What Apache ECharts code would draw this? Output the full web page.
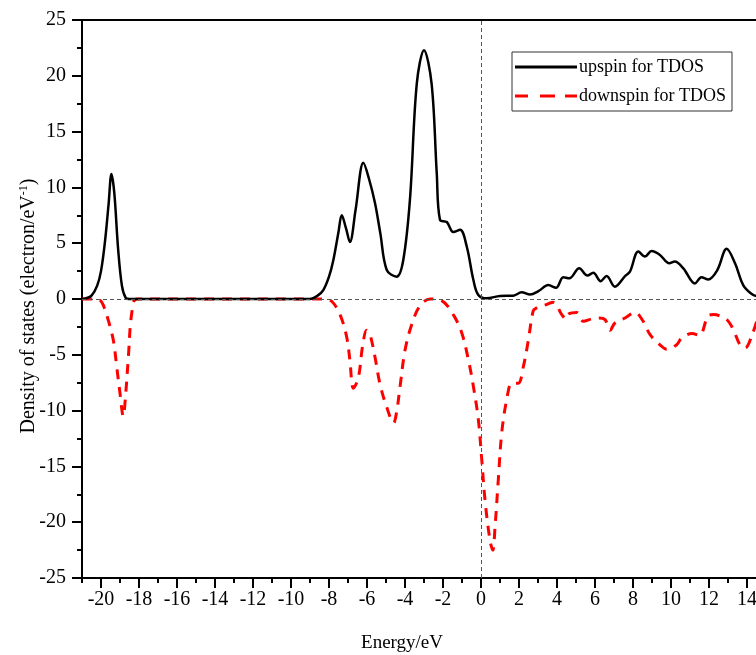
<!DOCTYPE html>
<html lang="en" style="height: 100%">
<head>
  <meta charset="utf-8">
</head>
<body style="height: 100%; margin: 0">
  <div id="container" style="width: 756px; height: 655px"></div>

  <script type="text/javascript" src="https://cdn.jsdelivr.net/npm/echarts@6/dist/echarts.min.js"></script>

  <script type="text/javascript">
    // values (energy in eV, DOS in electron/eV)
    var upEnergy = [-21, -20.8, -20.5, -20.2, -20, -19.8, -19.6, -19.45, -19.3, -19.1, -18.9, -18.7, -18.5,
      -9, -8.6, -8.3, -8, -7.77, -7.5, -7.33, -7.1, -6.9, -6.6, -6.19, -5.9, -5.58, -5.3, -4.96, -4.44, -4.09,
      -3.74, -3.38, -3.0, -2.6, -2.33, -2.16, -1.8, -1.46, -1.1, -0.75, -0.4, -0.14, 0.3, 1.0, 1.7, 2.14, 2.58,
      3.02, 3.54, 3.95, 4.33, 4.65, 5.17, 5.6, 5.91, 6.3, 6.61, 7.05, 7.58, 7.84, 8.28, 8.63, 8.98, 9.42, 9.91,
      10.2, 10.65, 11.26, 11.6, 11.96, 12.44, 12.93, 13.37, 13.8, 14.25, 14.6];
    var upDos = [0, 0.05, 0.3, 1.2, 2.5, 5, 8.5, 11.2, 9.5, 4.5, 1.2, 0.1, 0,
      0, 0.3, 0.8, 2.0, 3.5, 6.0, 7.5, 6.3, 5.1, 8.0, 12.2, 10.8, 8.6, 5.9, 2.6, 2.0, 3.5,
      8.9, 19.3, 22.3, 19.3, 11.3, 7.1, 6.9, 6.0, 6.2, 4.7, 1.7, 0.36, 0.06, 0.27, 0.3, 0.6, 0.4,
      0.7, 1.25, 1.0, 1.95, 1.85, 2.75, 2.1, 2.35, 1.6, 2.05, 1.1, 2.05, 2.45, 4.25, 3.8, 4.3, 3.95, 3.2,
      3.35, 2.75, 1.4, 1.95, 1.75, 2.6, 4.5, 3.2, 1.25, 0.45, 0.2];

    var downEnergy = [-21, -20.3, -20.05, -19.88, -19.6, -19.35, -19.17, -19.0, -18.83, -18.7, -18.56, -18.38, -18.1,
      -9, -8.3, -7.86, -7.42, -7.07, -6.9, -6.72, -6.46, -6.23, -6.02, -5.84, -5.58, -5.32, -4.96, -4.6, -4.44,
      -4.26, -4.0, -3.65, -3.21, -2.68, -2.07, -1.46, -1.02, -0.67, -0.4, -0.14, 0.04, 0.21, 0.47, 0.62, 0.74,
      0.91, 1.09, 1.35, 1.62, 1.96, 2.23, 2.49, 2.75, 2.93, 3.28, 3.8, 4.25, 4.47, 4.6, 5.04, 5.39, 5.8, 6.18,
      6.53, 6.79, 7.05, 7.58, 8.1, 8.54, 8.9, 9.42, 9.77, 10.3, 10.56, 11.1, 11.5, 11.96, 12.23, 12.93, 13.28,
      13.63, 13.9, 14.25, 14.6];
    var downDos = [0, 0, -0.1, -0.55, -2.0, -3.7, -6.1, -8.45, -10.5, -8.5, -5.2, -1.25, 0,
      0, 0, -0.2, -1.4, -3.4, -5.5, -8.0, -7.1, -4.2, -2.8, -3.2, -5.2, -7.6, -9.7, -11.1, -10.1,
      -7.85, -4.6, -2.3, -0.6, 0, -0.15, -1.4, -3.0, -5.4, -7.85, -10.8, -14.4, -18.0, -21.6, -22.5, -20.4,
      -16.2, -12.0, -9.05, -7.55, -7.55, -6.05, -3.7, -1.05, -0.8, -0.6, -0.3, -1.4, -1.8, -1.35, -1.2, -2.0, -1.8, -1.7,
      -1.85, -2.8, -2.15, -1.7, -1.2, -2.0, -3.2, -4.1, -4.5, -4.1, -3.5, -3.1, -3.25, -1.5, -1.4, -1.85, -2.75,
      -4.1, -4.4, -3.3, -1.5];

    var seriesNames = ['upspin for TDOS', 'downspin for TDOS'];
    var xMajorTicks = [-20, -18, -16, -14, -12, -10, -8, -6, -4, -2, 0, 2, 4, 6, 8, 10, 12, 14];
    var xMinorTicks = [-21, -19, -17, -15, -13, -11, -9, -7, -5, -3, -1, 1, 3, 5, 7, 9, 11, 13, 15];

    function zip(xs, ys) {
      return xs.map(function (x, i) { return [x, ys[i]]; });
    }

    var font = 'Liberation Serif';
    var dom = document.getElementById('container');
    var myChart = echarts.init(dom, null, { renderer: 'canvas' });
    var option;

    // legend samples: a plain bar and three dashes
    var solidIcon = 'path://M0,0h62v3h-62z';
    var dashIcon = 'path://M0,0h13v3h-13zM25,0h15v3h-15zM50,0h12v3h-12z';

    option = {
      backgroundColor: '#fff',
      animation: false,
      grid: {
        left: 82,
        top: 20,
        width: 684,
        height: 558,
        outerBoundsMode: 'none',
        containLabel: false,
        show: true,
        borderColor: '#000',
        borderWidth: 2
      },
      legend: {
        left: 512,
        top: 52,
        orient: 'vertical',
        itemWidth: 62,
        itemHeight: 3,
        itemGap: 11,
        padding: [6, 6, 6, 3],
        borderColor: '#333',
        borderWidth: 1,
        textStyle: { fontFamily: font, fontSize: 18, color: '#000', padding: [0, 0, 0, -3] },
        data: [
          { name: seriesNames[0], icon: solidIcon },
          { name: seriesNames[1], icon: dashIcon }
        ]
      },
      xAxis: [
        {
          type: 'value',
          min: -21,
          max: 15,
          position: 'bottom',
          name: 'Energy/eV',
          nameLocation: 'middle',
          nameGap: 56,
          nameTextStyle: { fontFamily: font, fontSize: 19, color: '#000', padding: [0, 44, 0, 0] },
          axisLine: { onZero: false, lineStyle: { color: '#000', width: 2 } },
          axisTick: { customValues: xMajorTicks, length: 10, lineStyle: { width: 2 } },
          axisLabel: { customValues: xMajorTicks, fontFamily: font, fontSize: 20, color: '#000', margin: 12 },
          splitLine: { show: false }
        },
        {
          type: 'value',
          min: -21,
          max: 15,
          position: 'bottom',
          axisLine: { show: false, onZero: false },
          axisTick: { customValues: xMinorTicks, length: 5, lineStyle: { width: 2, color: '#000' } },
          axisLabel: { show: false },
          splitLine: { show: false }
        }
      ],
      yAxis: {
        type: 'value',
        min: -25,
        max: 25,
        interval: 5,
        name: '{a|Density of states (electron/eV}{s|-1}{a|)}',
        nameLocation: 'middle',
        nameGap: 43,
        nameMoveOverlap: false,
        nameTextStyle: {
          padding: [0, 14, 0, 0],
          rich: {
            a: { fontFamily: font, fontSize: 20, color: '#000' },
            s: { fontFamily: font, fontSize: 12, color: '#000', verticalAlign: 'top', padding: [0, 0, 9, 0] }
          }
        },
        axisLine: { onZero: false, lineStyle: { color: '#000', width: 2 } },
        axisTick: { length: 10, lineStyle: { width: 2 } },
        minorTick: { show: true, splitNumber: 2, length: 5, lineStyle: { width: 2, color: '#000' } },
        axisLabel: { fontFamily: font, fontSize: 20, color: '#000', margin: 16 },
        splitLine: { show: false }
      },
      series: [
        {
          name: seriesNames[0],
          type: 'line',
          data: zip(upEnergy, upDos),
          smooth: 0.35,
          symbol: 'none',
          lineStyle: { color: '#000', width: 2.5 },
          itemStyle: { color: '#000' },
          z: 3,
          markLine: {
            silent: true,
            symbol: 'none',
            label: { show: false },
            lineStyle: { type: [4, 3], color: '#555', width: 1 },
            data: [{ xAxis: 0 }, { yAxis: 0 }]
          }
        },
        {
          name: seriesNames[1],
          type: 'line',
          data: zip(downEnergy, downDos),
          smooth: 0.35,
          symbol: 'none',
          lineStyle: { color: '#ff0000', width: 3, type: [10, 8] },
          itemStyle: { color: '#ff0000' },
          z: 2
        }
      ]
    };

    if (option && typeof option === 'object') {
      myChart.setOption(option);
    }

    window.addEventListener('resize', myChart.resize);
  </script>
</body>
</html>
